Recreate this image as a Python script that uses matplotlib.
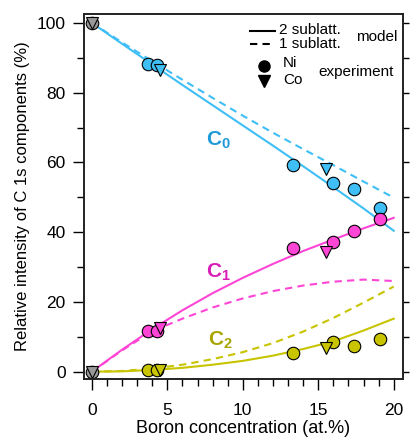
import matplotlib
matplotlib.use('Agg')
import matplotlib.pyplot as plt
from matplotlib.ticker import MultipleLocator

plt.rcParams['font.family'] = ['Liberation Sans', 'DejaVu Sans']
plt.rcParams['mathtext.fontset'] = 'custom'
plt.rcParams['mathtext.rm'] = 'Liberation Sans'
plt.rcParams['mathtext.bf'] = 'Liberation Sans:bold'

# model curves
model_x = [0, 2, 4, 6, 8, 10, 12, 14, 16, 18, 20]
c0_two = [100, 94.0, 88.1, 82.2, 76.4, 70.6, 64.8, 58.9, 52.9, 46.8, 40.4]
c0_one = [100, 94.4, 89.0, 83.7, 78.5, 73.4, 68.5, 63.8, 59.2, 54.5, 49.9]
c1_two = [0, 6.3, 12.2, 17.6, 22.5, 26.9, 30.9, 34.6, 37.9, 41.1, 44.1]
c1_one = [0, 6.1, 11.6, 15.2, 18.4, 21.0, 23.1, 24.7, 25.8, 26.4, 26.0]
c2_two = [0, 0.1, 0.5, 1.1, 2.0, 3.1, 4.6, 6.5, 8.7, 11.8, 15.2]
c2_one = [0, 0.2, 0.9, 2.0, 3.6, 5.6, 8.2, 11.5, 15.4, 19.8, 24.4]

# experiment
ni_x = [3.74, 4.3, 13.3, 16.0, 17.4, 19.07]
co_x = [4.52, 15.5]
c0_ni = [88.2, 87.9, 59.3, 54.2, 52.3, 46.8]
c0_co = [86.4, 58.0]
c1_ni = [11.6, 11.6, 35.5, 37.2, 40.3, 43.8]
c1_co = [12.6, 34.4]
c2_ni = [0.5, 0.5, 5.3, 8.6, 7.5, 9.3]
c2_co = [0.5, 6.9]
ref_x = [0, 0]
ref_y = [100, 0]

blue = '#3fbff5'
magenta = '#ff45d6'
yellow = '#c8c400'

fig = plt.figure(figsize=(4.11, 4.42), dpi=100)
ax = fig.add_axes([0.204, 0.1425, 0.776, 0.8255])

dash = (3.5, 2.5)
for two, one, col in [(c0_two, c0_one, blue), (c1_two, c1_one, magenta), (c2_two, c2_one, yellow)]:
    ax.plot(model_x, two, color=col, lw=1.5, zorder=2)
    ax.plot(model_x, one, color=col, lw=1.5, dashes=dash, zorder=2)

ms = 9
for ni, co, col in [(c0_ni, c0_co, blue), (c1_ni, c1_co, magenta), (c2_ni, c2_co, yellow)]:
    ax.plot(ni_x, ni, 'o', ms=ms, mfc=col, mec='black', mew=0.8, zorder=3)
    ax.plot(co_x, co, 'v', ms=ms, mfc=col, mec='black', mew=0.8, zorder=4)
ax.plot(ref_x, ref_y, 'o', ms=ms, mfc='#999999', mec='black', mew=0.8, zorder=3)
ax.plot(ref_x, ref_y, 'v', ms=ms, mfc='#999999', mec='black', mew=0.8, zorder=4)

# component labels
ax.text(8.4, 66.4, r'$\mathbf{C_0}$', color='#1e9ad8', fontsize=15, ha='center', va='center')
ax.text(8.4, 28.5, r'$\mathbf{C_1}$', color='#d81eb4', fontsize=15, ha='center', va='center')
ax.text(8.5, 9.1, r'$\mathbf{C_2}$', color='#a8a400', fontsize=15, ha='center', va='center')

# legend drawn by hand
T = ax.transAxes
fs_leg = 11
ax.plot([0.521, 0.599], [0.953, 0.953], color='black', lw=1.5, transform=T)
ax.plot([0.521, 0.599], [0.918, 0.918], color='black', lw=1.5, dashes=dash, transform=T)
ax.text(0.612, 0.956, '2 sublatt.', transform=T, fontsize=fs_leg, va='center')
ax.text(0.612, 0.917, '1 sublatt.', transform=T, fontsize=fs_leg, va='center')
ax.text(0.852, 0.937, 'model', transform=T, fontsize=fs_leg, va='center')
ax.plot([0.565], [0.858], 'o', color='black', ms=8, transform=T)
ax.plot([0.565], [0.816], 'v', color='black', ms=8, transform=T)
ax.text(0.625, 0.866, 'Ni', transform=T, fontsize=fs_leg, va='center')
ax.text(0.625, 0.819, 'Co', transform=T, fontsize=fs_leg, va='center')
ax.text(0.735, 0.841, 'experiment', transform=T, fontsize=fs_leg, va='center')

ax.set_xlim(-0.53, 20.6)
ax.set_ylim(-2.1, 102.5)
ax.xaxis.set_major_locator(MultipleLocator(5))
ax.xaxis.set_minor_locator(MultipleLocator(1))
ax.yaxis.set_major_locator(MultipleLocator(20))
ax.yaxis.set_minor_locator(MultipleLocator(10))
ax.tick_params(which='major', direction='out', length=8, width=1, labelsize=12.5)
ax.tick_params(which='minor', direction='out', length=5, width=1)
ax.tick_params(axis='x', which='major', pad=9)
ax.tick_params(axis='y', which='major', pad=5)

ax2 = ax.twinx()
ax2.set_ylim(ax.get_ylim())
ax2.yaxis.set_major_locator(MultipleLocator(10))
ax2.tick_params(direction='out', length=4, width=1, labelright=False)

for a in (ax, ax2):
    for s in a.spines.values():
        s.set_linewidth(1.2)
        s.set_color('#222222')

ax.set_xlabel('Boron concentration (at.%)', fontsize=13, labelpad=2)
ax.set_ylabel('Relative intensity of C 1s components (%)', fontsize=12, labelpad=5)

fig.savefig('out.png', dpi=100)
